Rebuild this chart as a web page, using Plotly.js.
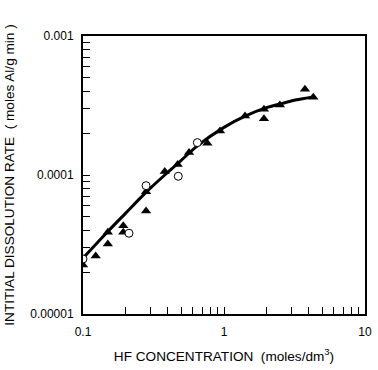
<!DOCTYPE html>
<html>
<head>
<meta charset="utf-8">
<script src="https://cdn.plot.ly/plotly-3.0.1.min.js"></script>
<style>html,body{margin:0;padding:0;background:#fff;}#chart{width:378px;height:370px;}</style>
</head>
<body>
<div id="chart"></div>
<script>
// Filled triangles
const triX = [0.1, 0.123, 0.150, 0.150, 0.193, 0.193, 0.280, 0.280, 0.380, 0.469, 0.565, 0.762, 0.937, 1.41, 1.92, 1.92, 2.49, 3.75, 4.30];
const triY = [2.25e-5, 2.61e-5, 3.87e-5, 3.19e-5, 4.32e-5, 3.87e-5, 7.58e-5, 5.51e-5, 1.06e-4, 1.19e-4, 1.45e-4, 1.69e-4, 2.07e-4, 2.66e-4, 2.97e-4, 2.54e-4, 3.19e-4, 4.14e-4, 3.62e-4];
// Open circles
const circX = [0.1, 0.212, 0.280, 0.474, 0.647];
const circY = [2.49e-5, 3.81e-5, 8.38e-5, 9.79e-5, 1.71e-4];
// Fitted curve
const fitX = [0.1, 0.15, 0.2, 0.274, 0.38, 0.462, 0.657, 1.0, 1.41, 2.0, 2.49, 3.2, 4.3];
const fitY = [2.52e-5, 3.92e-5, 5.3e-5, 7.35e-5, 1.0e-4, 1.19e-4, 1.64e-4, 2.2e-4, 2.65e-4, 3.05e-4, 3.24e-4, 3.46e-4, 3.64e-4];
// Ticks
const xTickVals = [0.1,0.2,0.3,0.4,0.5,0.6,0.7,0.8,0.9,1,2,3,4,5,6,7,8,9,10];
const xTickText = ['0.1','','','','','','','','','1','','','','','','','','','10'];
const yTickVals = [1e-5,2e-5,3e-5,4e-5,5e-5,6e-5,7e-5,8e-5,9e-5,1e-4,2e-4,3e-4,4e-4,5e-4,6e-4,7e-4,8e-4,9e-4,1e-3];
const yTickText = ['0.00001','','','','','','','','','0.0001','','','','','','','','','0.001'];

const fam = 'Liberation Sans, Arial, Helvetica, sans-serif';
const font = {family: fam, size: 12, color: '#000'};

const traces = [
  {x: fitX, y: fitY, mode: 'lines', type: 'scatter', line: {color: '#000', width: 3, shape: 'spline', smoothing: 1}, hoverinfo: 'skip'},
  {x: triX, y: triY, mode: 'markers', type: 'scatter', marker: {symbol: 'triangle-up', size: 9, color: '#000'}},
  {x: circX, y: circY, mode: 'markers', type: 'scatter', marker: {symbol: 'circle', size: 8, color: '#fff', line: {color: '#000', width: 1}}}
];

const layout = {
  width: 378, height: 370,
  margin: {l: 83, r: 13, t: 36, b: 56},
  showlegend: false,
  paper_bgcolor: '#fff', plot_bgcolor: '#fff',
  font: font,
  xaxis: {
    type: 'log', range: [-1, 1], tickmode: 'array', tickvals: xTickVals, ticktext: xTickText,
    ticks: 'inside', ticklen: 7, tickwidth: 1, tickcolor: '#000',
    showline: true, linewidth: 2, linecolor: '#000', mirror: true,
    showgrid: false, zeroline: false, ticklabelstandoff: 6,
    title: {text: 'HF CONCENTRATION  (moles/dm<sup>3</sup>)', font: {family: fam, size: 13.6, color: '#000'}, standoff: 13},
    automargin: false, fixedrange: true
  },
  yaxis: {
    type: 'log', range: [-5, -3], tickmode: 'array', tickvals: yTickVals, ticktext: yTickText,
    ticks: 'inside', ticklen: 7, tickwidth: 1, tickcolor: '#000',
    showline: true, linewidth: 2, linecolor: '#000', mirror: true,
    showgrid: false, zeroline: false, ticklabelstandoff: 5,
    title: {text: 'INTITIAL DISSOLUTION RATE  ( moles Al/g min )', font: {family: fam, size: 13.6, color: '#000'}, standoff: 12},
    automargin: false, fixedrange: true
  }
};

Plotly.newPlot('chart', traces, layout, {displayModeBar: false, staticPlot: true});
</script>
</body>
</html>
